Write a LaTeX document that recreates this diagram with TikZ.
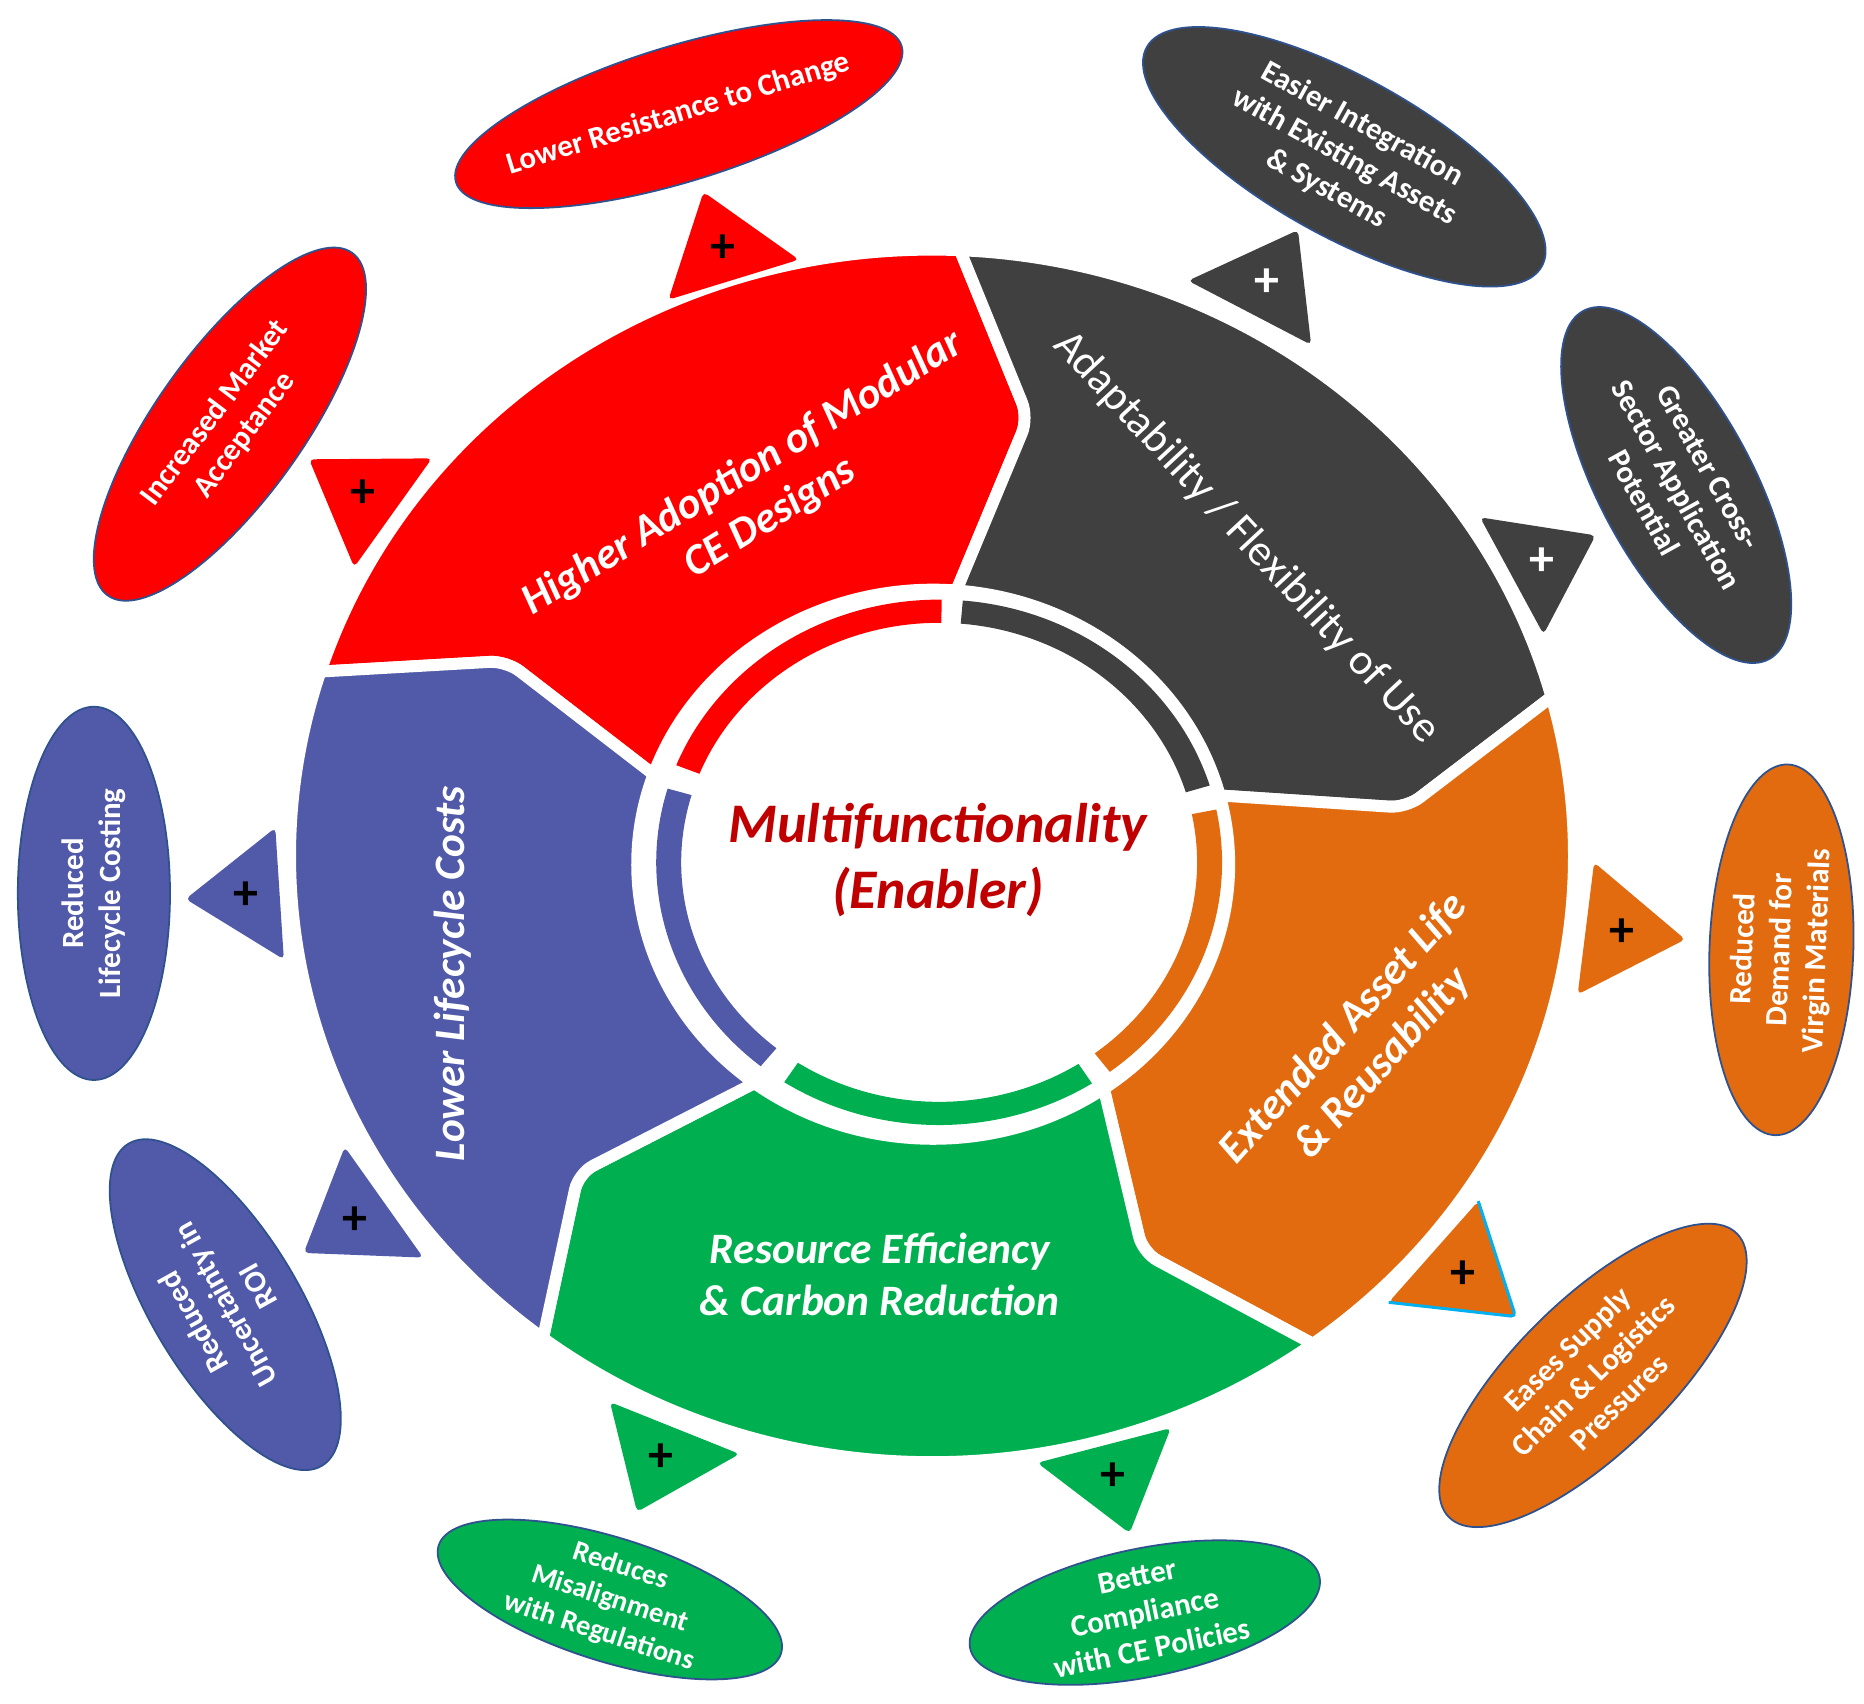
\documentclass[tikz,border=0pt]{standalone}
\usepackage{fontspec}
\setmainfont{Carlito}
\usetikzlibrary{calc,shapes.geometric}
\definecolor{cRed}{HTML}{FF0000}
\definecolor{cGray}{HTML}{404040}
\definecolor{cOrange}{HTML}{E26B10}
\definecolor{cGreen}{HTML}{00B050}
\definecolor{cBlue}{HTML}{5159A9}
\definecolor{cDark}{HTML}{C00000}
\definecolor{cLine}{HTML}{2F528F}
\definecolor{cCyan}{HTML}{00B0F0}
\tikzset{
 seg/.style={draw=white, line width=10pt, line join=round},
 segtext/.style={text=white, font=\bfseries\itshape\fontsize{36.5}{44}\selectfont, align=center, inner sep=0pt},
 ell/.style={ellipse, draw=cLine, line width=1.5pt, inner sep=0pt},
 elltext/.style={text=white, font=\bfseries\fontsize{26}{31}\selectfont, align=center, inner sep=0pt},
 plussign/.style={font=\bfseries\fontsize{42}{42}\selectfont, inner sep=0pt},
}
\newcommand\segment[7]{%
 \path[seg, fill=#1] (o#2) arc[start angle=#4, end angle=#5, x radius=540, y radius=510]
   -- (mo#3) [rounded corners=14pt] -- (t#3) -- (mi#3) [sharp corners]
   -- (i#3) arc[start angle=#6, end angle=#7, x radius=249, y radius=231]
   -- (mi#2) [rounded corners=14pt] -- (t#2) -- (mo#2) [sharp corners] -- cycle;
}
\newcommand\ringarc[3]{%
 \fill[#1] ($(J)+(#2:238 and 221)$) arc[start angle=#2, end angle=#3, x radius=238, y radius=221]
   -- ($(J)+(#3:217 and 201.5)$) arc[start angle=#3, end angle=#2, x radius=217, y radius=201.5] -- cycle;
}
\newcommand\tri[6]{%
 \pgfmathsetmacro\tA{#2+6.1}\pgfmathsetmacro\tB{#2-6.1}%
 \pgfmathsetmacro\rbx{#3}\pgfmathsetmacro\rby{0.944*#3}%
 \pgfmathsetmacro\rax{#4}\pgfmathsetmacro\ray{0.944*#4}%
 \pgfmathsetmacro\rpx{(2*#3+#4)/3}\pgfmathsetmacro\rpy{0.944*(2*#3+#4)/3}%
 \coordinate (#1a) at ($(O)+(\tA:{\rbx} and {\rby})$);
 \coordinate (#1b) at ($(O)+(\tB:{\rbx} and {\rby})$);
 \coordinate (#1c) at ($(O)+(#2:{\rax} and {\ray})$);
 \fill[#5, rounded corners=4pt] (#1a) -- (#1c) -- (#1b) -- cycle;
 \node[plussign, text=#6] (#1p) at ($(O)+(#2:{\rpx} and {\rpy})$) {+};
}
\begin{document}
\begin{tikzpicture}[x=1pt,y=1pt]
\useasboundingbox (0,0) rectangle (1568,1433);
\fill[white] (0,0) rectangle (1568,1433);
\coordinate (O) at (784,713);
\coordinate (I) at (785,706);
\coordinate (J) at (790,707.6);
% boundary points
\coordinate (o1) at ($(O)+(87.5:540 and 510)$);
\coordinate (o2) at ($(O)+(15.2:540 and 510)$);
\coordinate (o3) at ($(O)+(-53.6:540 and 510)$);
\coordinate (o4) at ($(O)+(-127.3:540 and 510)$);
\coordinate (o5) at ($(O)+(162.3:540 and 510)$);
\coordinate (i1) at ($(I)+(85.5:249 and 231)$);
\coordinate (i2) at ($(I)+(14.5:249 and 231)$);
\coordinate (i3) at ($(I)+(-54.8:249 and 231)$);
\coordinate (i4) at ($(I)+(-127.15:249 and 231)$);
\coordinate (i5) at ($(I)+(160.9:249 and 231)$);
\coordinate (t1) at (865,1081.5);
\coordinate (t2) at (1183,753.5);
\coordinate (t3) at (961.3,379.3);
\coordinate (t4) at (486.6,446.1);
\coordinate (t5) at (426,877);
\foreach \k in {1,...,5}{
 \coordinate (mo\k) at ($(o\k)!0.5!(t\k)$);
 \coordinate (mi\k) at ($(t\k)!0.5!(i\k)$);
}
% big segments
\segment{cRed}{5}{1}{162.3}{87.5}{85.5}{160.9}
\segment{cGray}{1}{2}{87.5}{15.2}{14.5}{85.5}
\segment{cOrange}{2}{3}{15.2}{-53.6}{-54.8}{14.5}
\segment{cGreen}{3}{4}{-53.6}{-127.3}{-127.15}{-54.8}
\segment{cBlue}{4}{5}{-127.3}{-197.7}{-199.1}{-127.15}
% inner ring
\ringarc{cRed}{158.3}{89.5}
\ringarc{cGray}{85.2}{17.0}
\ringarc{cOrange}{11.6}{-52.9}
\ringarc{cGreen}{-57.3}{-123.2}
\ringarc{cBlue}{-129.1}{-196.3}
% triangles
\tri{ta}{108.0}{543}{622}{cRed}{black}
\tri{tb}{146.0}{550}{632}{cRed}{black}
\tri{tc}{61.1}{556}{637}{cGray}{white}
\tri{td}{27.1}{551}{627}{cGray}{white}
\tri{te}{-6.7}{557}{638}{cOrange}{black}
\tri{tf}{-39.9}{553}{640}{cOrange}{black}
\draw[cCyan, line width=2.5pt, rounded corners=4pt] (tfa) -- (tfc) -- (tfb);
\tri{tg}{-74.6}{548}{626}{cGreen}{black}
\tri{th}{-113.0}{557}{635}{cGreen}{black}
\tri{ti}{213.8}{558}{636}{cBlue}{black}
\tri{tj}{183.5}{553}{629}{cBlue}{black}
% segment texts
\node[segtext, rotate=31.5] (s1) at (636.5,1016) {Higher Adoption of Modular\\CE Designs};
\node[segtext, font=\fontsize{37}{45}\selectfont, rotate=-47.1] (s2) at (1048.5,980.4) {Adaptability / Flexibility of Use};
\node[segtext, rotate=48] (s3) at (1147,553) {Extended Asset Life\\\& Reusability};
\node[segtext] (s4) at (740,361) {Resource Efficiency\\\& Carbon Reduction};
\node[segtext, rotate=90] (s5) at (381,614) {Lower Lifecycle Costs};
% centre
\node[text=cDark, font=\bfseries\itshape\fontsize{47}{56}\selectfont, align=center, inner sep=0pt] (mf) at (789,709.5) {Multifunctionality\\(Enabler)};
% ellipses
\node[ell, fill=cRed, minimum width=392pt, minimum height=114pt, rotate=17] (e1) at (571,1337) {};
\node[elltext, rotate=17] (e1t) at (e1.center) {Lower Resistance to Change};
\node[ell, fill=cRed, minimum width=354pt, minimum height=124pt, rotate=54.5] (e2) at (193.4,1076.2) {};
\node[elltext, rotate=53] (e2t) at (e2.center) {Increased Market\\Acceptance};
\node[ell, fill=cGray, minimum width=380pt, minimum height=134pt, rotate=-29] (e3) at (1130.8,1301.1) {};
\node[elltext, rotate=-29] (e3t) at (e3.center) {Easier Integration\\with Existing Assets\\\& Systems};
\node[ell, fill=cGray, minimum width=332pt, minimum height=130pt, rotate=-62] (e4) at (1410,1025) {};
\node[elltext, rotate=-61] (e4t) at (e4.center) {Greater Cross-\\Sector Application\\Potential};
\node[ell, fill=cOrange, minimum width=312pt, minimum height=121pt, rotate=88] (e5) at (1498.5,634) {};
\node[elltext, rotate=88] (e5t) at (e5.center) {Reduced\\Demand for\\Virgin Materials};
\node[ell, fill=cOrange, minimum width=340pt, minimum height=128pt, rotate=44.5] (e6) at (1340,276) {};
\node[elltext, rotate=44.3] (e6t) at (e6.center) {Eases Supply\\Chain \& Logistics\\Pressures};
\node[ell, fill=cGreen, minimum width=300pt, minimum height=108pt, rotate=11.5] (e7) at (963,76.5) {};
\node[elltext, rotate=11.5] (e7t) at (e7.center) {Better\\Compliance\\with CE Policies};
\node[ell, fill=cGreen, minimum width=302pt, minimum height=104pt, rotate=-17.5] (e8) at (513,87.5) {};
\node[elltext, font=\bfseries\fontsize{24}{29}\selectfont, rotate=-18] (e8t) at (e8.center) {Reduces\\Misalignment\\with Regulations};
\node[ell, fill=cBlue, minimum width=316pt, minimum height=124pt, rotate=121] (e9) at (189.5,335.5) {};
\node[elltext, rotate=119] (e9t) at (e9.center) {Reduced\\Uncertainty in\\ROI};
\node[ell, fill=cBlue, minimum width=314pt, minimum height=128pt, rotate=90] (e10) at (79,681.5) {};
\node[elltext, rotate=90] (e10t) at (e10.center) {Reduced\\Lifecycle Costing};
\end{tikzpicture}
\end{document}
